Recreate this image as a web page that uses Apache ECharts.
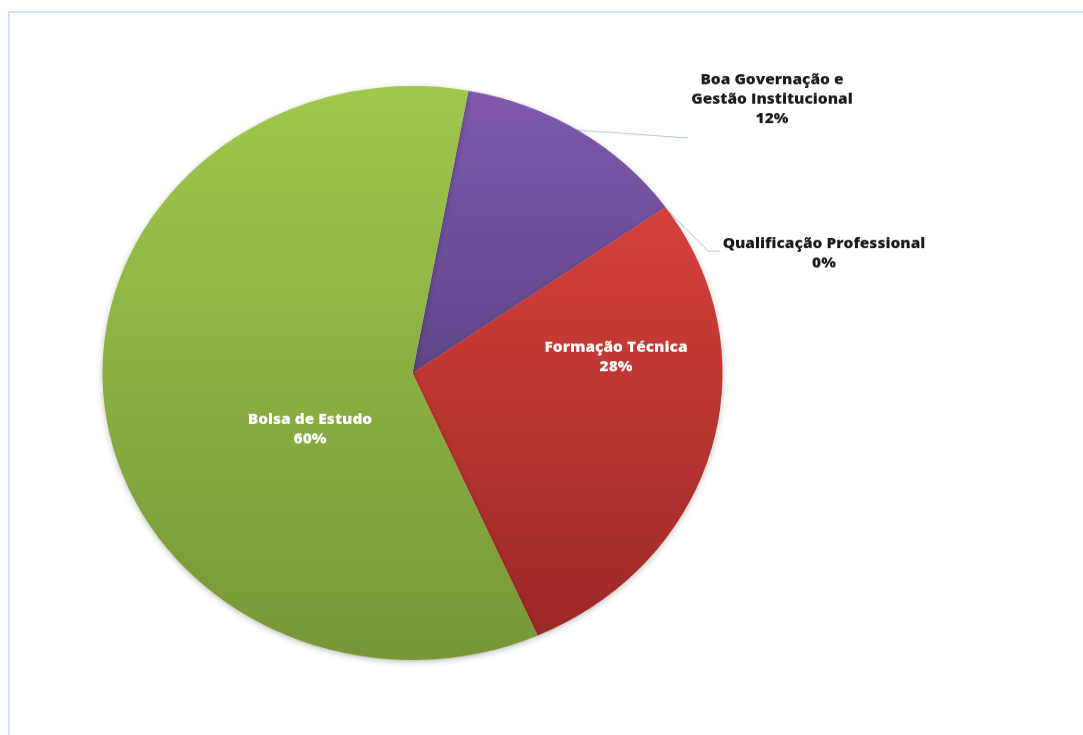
<!DOCTYPE html>
<html><head><meta charset="utf-8">
<script src="https://cdn.jsdelivr.net/npm/echarts@6/dist/echarts.min.js"></script>
<style>
html,body{margin:0;padding:0;background:#fff;overflow:hidden;width:1083px;height:735px}
#frame{position:absolute;left:8px;top:11px;width:1100px;height:760px;border-left:2px solid #d5e2f2;border-top:2px solid #d5e2f2;}
#chart{position:absolute;left:0;top:0;width:1083px;height:794px;transform:scaleY(0.9258);transform-origin:0 0;}
</style></head>
<body><div id="frame"></div><div id="chart"></div>
<script>
// Data
const categories = ['Boa Governação e\nGestão Institucional', 'Qualificação Professional', 'Formação Técnica', 'Bolsa de Estudo'];
const values = [12.3, 0, 28.2, 59.5];
const gradTop = ['#8159ab', '#8159ab', '#d5413b', '#9fc84c'];
const gradBottom = ['#5f468a', '#5f468a', '#9c2927', '#779737'];
const insideLabel = [false, false, true, true];

const K = 287 / 310; // vertical squash to make the pie elliptical
const labelPos = [[772, 100], [824, 254], [616, 357], [310, 430]];
const linePts = [
  [[576, 130], [632, 134], [688, 138]],
  [[665, 208], [708, 251], [720, 251]],
  null, null
];

const chart = echarts.init(document.getElementById('chart'), null, {renderer: 'canvas'});
const data = categories.map((c, i) => ({
  name: c,
  value: values[i],
  itemStyle: {
    color: new echarts.graphic.LinearGradient(0, 0, 0, 1, [
      {offset: 0, color: gradTop[i]}, {offset: 1, color: gradBottom[i]}
    ])
  },
  label: {
    position: insideLabel[i] ? 'inside' : 'outside',
    color: insideLabel[i] ? '#ffffff' : '#1a1a1a'
  },
  labelLine: {show: !insideLabel[i]}
}));

chart.setOption({
  animation: false,
  backgroundColor: 'transparent',
  series: [{
    type: 'pie',
    center: [412.5, 373 / K],
    radius: 310,
    startAngle: 79.6,
    clockwise: true,
    avoidLabelOverlap: false,
    minShowLabelAngle: 0,
    stillShowZeroSum: true,
    data: data,
    itemStyle: {
      borderWidth: 0,
      shadowBlur: 6,
      shadowOffsetY: 2,
      shadowColor: 'rgba(0,0,0,0.25)'
    },
    emphasis: {disabled: true},
    label: {
      show: true,
      fontFamily: 'Open Sans',
      fontWeight: 800,
      fontSize: 15.5,
      lineHeight: 21,
      align: 'center',
      formatter: p => p.name + '\n' + Math.round(p.percent) + '%'
    },
    labelLine: {
      lineStyle: {color: '#a8c3e6', width: 1}
    },
    labelLayout: function (p) {
      const i = p.dataIndex;
      const out = {x: labelPos[i][0], y: labelPos[i][1] / K, align: 'center', verticalAlign: 'middle'};
      if (linePts[i]) out.labelLinePoints = linePts[i].map(pt => [pt[0], pt[1] / K]);
      return out;
    }
  }]
});
</script>
</body></html>
